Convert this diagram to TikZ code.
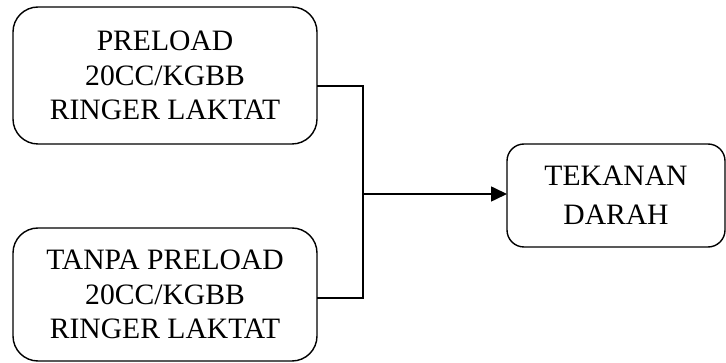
\documentclass[tikz,border=0pt]{standalone}
\usepackage{fontspec}
\setmainfont{Liberation Serif}
\usetikzlibrary{arrows.meta}
\begin{document}
\begin{tikzpicture}[x=1pt,y=1pt,
  bigbox/.style={draw=black, line width=1.4pt, rounded corners=25pt, outer sep=0pt,
    inner sep=0pt, align=center, font=\fontsize{29.6}{34.5}\selectfont,
    minimum width=304pt},
  smallbox/.style={draw=black, line width=1.4pt, rounded corners=17pt, outer sep=0pt,
    inner sep=0pt, align=center, font=\fontsize{29.6}{39}\selectfont,
    minimum width=218pt, minimum height=103pt},
  link/.style={line width=1.2pt},
  arrowline/.style={line width=1.6pt, -{Triangle[length=16pt,width=15pt]}}]
\useasboundingbox (0,0) rectangle (726,-363);
\node[bigbox, minimum height=137pt] (b1) at (165,-75.5) {PRELOAD\\20CC/KGBB\\RINGER LAKTAT};
\node[bigbox, minimum height=133pt] (b2) at (165,-294.5) {TANPA PRELOAD\\20CC/KGBB\\RINGER LAKTAT};
\node[smallbox] (b3) at (616,-195.5) {TEKANAN\\DARAH};
\coordinate (j) at (363,-194);
\draw[link] ([yshift=-10.5pt]b1.east) -| (j) |- ([yshift=-3.5pt]b2.east);
\draw[arrowline] (j) -- (b3.west |- j);
\end{tikzpicture}
\end{document}
